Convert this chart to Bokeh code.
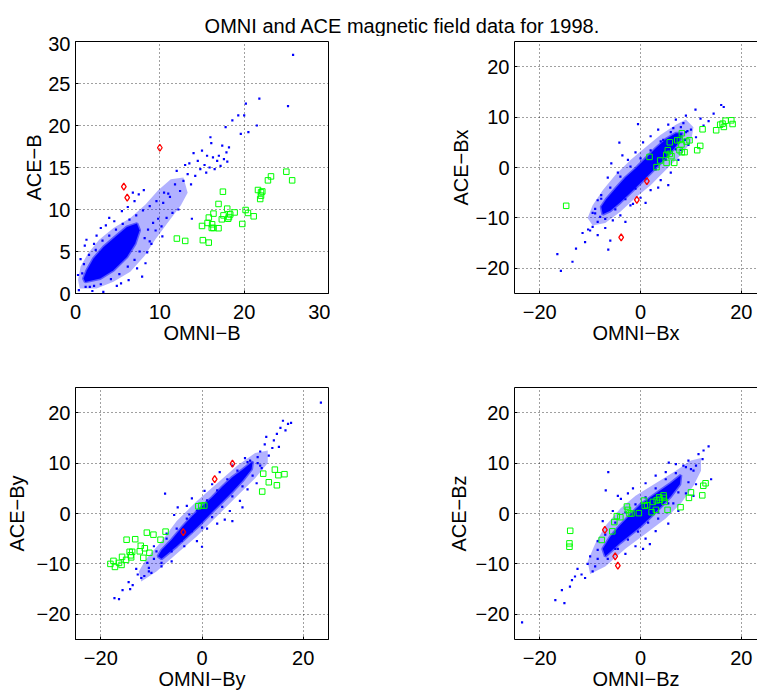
from bokeh.plotting import figure
from bokeh.layouts import column, row
from bokeh.models import FixedTicker, Range1d, LinearAxis
from bokeh.core.properties import value
from bokeh.embed import file_html
from bokeh.resources import INLINE

FONT = "Liberation Sans"
MINUS = "\u2212"
TITLE = "OMNI and ACE magnetic field data for 1998."

# ---------------- Panel 1 : B ----------------
b_core_x = [1.15, 2.93, 4.5, 6.1, 7.08, 7.6, 7.28, 6.1, 4.7, 3.33, 2.14, 1.35, 0.95]
b_core_y = [1.38, 1.78, 2.77, 4.35, 5.94, 7.53, 8.32, 7.93, 6.74, 5.55, 4.16, 2.77, 1.78]
b_halo_x = [0.5, 2.5, 4.5, 6.5, 8.2, 9.5, 11.0, 12.5, 13.3, 12.8, 11.3, 9.8, 8.3, 6.5, 4.5, 2.8, 1.5, 0.6, 0.3]
b_halo_y = [0.6, 0.6, 1.4, 2.6, 4.5, 6.5, 8.5, 10.5, 12.0, 13.8, 13.6, 12.3, 10.6, 9.0, 7.8, 6.4, 4.8, 3.2, 1.6]
b_dots_x = [10.5, 11.2, 11.8, 12.4, 12.0, 12.8, 13.3, 13.7, 13.5, 14.2, 14.5, 14.8, 15.0, 15.3, 15.6, 15.9,
            16.1, 16.3, 16.5, 16.8, 17.0, 17.2, 17.4, 17.6, 17.9, 18.0, 18.2, 16.0, 15.5, 14.0, 13.0, 18.6,
            19.3, 19.6, 20.2, 20.5, 21.5, 21.8, 20.0, 17.8, 25.2, 25.8,
            9.5, 10.2, 10.8, 11.5, 12.2, 9.0, 8.3, 7.9, 10.3, 13.8, 8.8, 9.8,
            0.6, 1.1, 2.2, 1.3, 3.0, 4.0, 5.5, 4.6, 6.2, 7.0, 8.1, 7.5, 6.8, 3.6, 2.5,
            0.4, 3.3, 2.0, 4.9, 6.3, 5.4, 7.3, 8.5, 0.3, 1.7,
            1.0, 1.6, 2.4, 3.2, 4.0, 4.8, 5.6, 6.4, 7.2, 8.0, 8.8, 9.6, 10.4, 11.0, 9.2, 8.6, 8.2,
            7.6, 7.0, 6.2, 5.2, 4.2, 3.0, 2.2, 1.2, 0.8]
b_dots_y = [12.0, 11.5, 13.0, 12.2, 14.6, 13.4, 14.2, 13.0, 15.5, 14.0, 15.8, 14.8, 17.0, 15.3, 16.4, 15.0,
            17.9, 16.2, 14.8, 15.8, 16.4, 15.2, 17.6, 16.0, 16.8, 15.7, 17.4, 18.6, 14.4, 16.7, 15.3, 20.6,
            21.2, 19.0, 22.6, 19.2, 20.0, 23.2, 21.2, 19.8, 22.3, 28.4,
            7.5, 8.0, 9.0, 9.6, 10.0, 5.9, 3.6, 2.0, 6.8, 8.9, 6.2, 8.9,
            4.1, 5.7, 5.9, 6.4, 7.8, 9.0, 9.8, 8.6, 10.3, 11.0, 12.3, 11.8, 12.0, 8.1, 6.9,
            0.4, 0.2, 0.3, 0.9, 1.6, 1.2, 3.0, 4.9, 2.2, 0.8,
            3.5, 4.6, 5.2, 6.3, 6.9, 7.6, 8.3, 8.8, 9.3, 9.9, 10.4, 11.0, 10.8, 11.9, 8.4, 7.6, 6.6,
            5.0, 4.0, 3.2, 2.3, 1.7, 1.1, 0.9, 0.8, 2.4]
b_green_x = [12.02, 13.01, 15.1, 15.8, 15.0, 15.66, 15.81, 16.2, 16.16, 16.36, 16.96, 16.36, 16.96, 17.48,
             17.35, 17.55, 17.99, 18.1, 18.2, 18.35, 18.87, 19.78, 20.17, 20.45, 21.13, 21.64, 22.0, 22.15,
             22.0, 21.9, 22.82, 23.18, 25.0, 25.69]
b_green_y = [6.54, 6.26, 6.35, 6.06, 8.04, 8.40, 9.04, 8.24, 7.8, 7.8, 7.77, 9.51, 10.66, 12.12,
             8.83, 9.3, 10.1, 8.9, 9.1, 9.41, 9.65, 8.28, 9.94, 9.59, 9.19, 12.32, 12.04, 12.15,
             11.65, 11.25, 13.47, 13.94, 14.5, 13.47]
b_red_x = [10.0, 5.73, 6.13]
b_red_y = [17.35, 12.72, 11.41]

# ---------------- Panel 2 : Bx ----------------
bx_core_x = [-7.5, -6, -4, -2, 0, 2, 4, 6, 7.8, 8.3, 7, 5, 3, 1, -1, -3, -5, -6.8, -7.8]
bx_core_y = [-9.3, -8.6, -6.9, -5.0, -3.1, -1.1, 0.9, 3.0, 5.2, 6.8, 6.8, 5.6, 3.8, 1.8, -0.2, -2.0, -4.2, -6.3, -7.8]
bx_halo_x = [-9.5, -7, -4, -1, 2, 5, 8, 10, 10.5, 9, 7, 4, 1, -2, -5, -7.5, -9.5, -10.5]
bx_halo_y = [-11.5, -11, -8.8, -6, -3.5, -0.5, 2.5, 5, 8, 9.5, 8.5, 6.5, 4, 1.5, -1.5, -4.5, -7.5, -10]
bx_dots_x = [-4.2, -0.5, 10.9, 16.0, 16.5, 14.5, 11.9, -16.5, -15.8, -13.5, -12.8, -11.0, -10.4, -6.4, -6.0,
             -9.0, -8.0, -8.5, -10.0, -9.5, -11.5, -7.0,
             -5.8, -3.6, -6.5, -7.8, -4.5, -2.5, -1.0, 0.5, 2.0, 3.5, 5.5, 7.0, 9.0, 8.5, 10.0, 9.5, 11.0,
             12.5, 13.5, 7.5, 6.0, 4.0, 2.0, 0.0, -2.0, -4.0, -5.5, -3.0, 1.0, 3.5, 5.5, 8.0, 9.0, -8.5,
             -9.5, -1.5, 6.5, 4.5,
             -8.5, -7.0, -5.0, -3.0, -1.0, 1.0, 3.0, 5.0, 7.0, 8.8, 9.3, 8.0, 6.0, 4.0, 2.0, 0.0, -2.0,
             -4.0, -6.0, -7.8, -9.0]
bx_dots_y = [4.95, 8.6, 11.5, 12.4, 12.0, 10.7, 9.7, -17.2, -20.5, -18.7, -16.1, -14.8, -12.3, -16.3, -14.5,
             -9.1, -9.8, -13.4, -12.5, -11.8, -13.0, -12.0,
             0.8, 2.4, -2.0, -5.5, -1.0, 1.5, 3.0, 5.0, 6.2, 7.5, 8.5, 9.5, 10.3, 8.8, 7.5, 4.5, 6.0,
             8.3, 9.2, 1.5, -1.0, -2.5, -4.5, -6.0, -7.5, -9.5, -10.5, -10.8, -7.0, -4.0, -3.5, 3.5, 7.0, -6.5,
             -9.0, -7.2, 7.8, 5.5,
             -10.8, -10.2, -8.3, -6.3, -4.2, -2.3, -0.4, 1.5, 3.6, 5.5, 7.2, 8.0, 7.0, 5.2, 3.4, 1.8, 0.2,
             -1.8, -4.0, -6.2, -8.2]
bx_green_x = [-14.75, 1.79, 3.17, 3.9, 5.16, 5.1, 5.41, 6.13, 5.8, 6.69, 5.8, 7.28, 7.8, 8.2, 8.12, 7.74,
              8.2, 8.73, 9.13, 9.72, 11.24, 11.84, 12.3, 15.0, 15.8, 16.27, 16.53, 16.87, 18.0, 18.26]
bx_green_y = [-7.6, 2.1, 0.07, 1.39, 0.92, 2.51, 3.43, 2.25, 2.7, 0.92, 5.0, 5.4, 5.46, 6.8, 4.57, 3.43,
              3.04, 3.04, 5.15, 5.4, 3.43, 4.29, 7.58, 7.39, 8.5, 8.7, 8.05, 9.29, 9.36, 8.63]
bx_red_x = [1.25, -0.73, -3.84]
bx_red_y = [-2.71, -6.41, -13.87]

# ---------------- Panel 3 : By ----------------
by_core_x = [-8, -5, -2, 0, 2, 4, 6, 8, 9.8, 10, 8, 6, 4, 2, 0, -2, -4, -6, -8, -8.7]
by_core_y = [-9.0, -6.5, -3.7, -1.8, 0.3, 2.3, 4.3, 6.5, 8.8, 10.3, 8.7, 7.2, 5.3, 3.2, 1.4, -0.6, -2.8, -5.2, -7.3, -8.5]
by_halo_x = [-12, -9, -5, -1, 3, 7, 10.5, 13, 13, 10.5, 7, 3, -1, -5, -8, -11, -12.5]
by_halo_y = [-13.5, -11.5, -8, -4.5, -0.5, 3.5, 7, 10, 12.5, 12, 9.5, 6, 2.5, -1.5, -5.5, -9, -11.5]
by_dots_x = [-7.3, 12.4, 16.0, 14.8, 13.9, 12.7, 17.0, 17.6, 15.5, 14.2, 13.2, 11.5, 11.0, 15.2, 16.5, 23.5,
             -15.7, -17.3, -16.4, -13.7, -12.7, -11.4, -14.5, -13.0, -10.5, -10.0, -9.5, -12.0, -14.2,
             -3.0, -5.5, -4.8, -2.0, 0.5, 2.0, 3.5, 6.0, 8.5, 9.5, -1.0, 1.0, 3.0, 5.5, 7.5, 9.0, 10.8, 8.0,
             4.5, -6.0, -8.0, -3.5, -7.0, -9.5, 0.0, 6.0, -2.5, 11.8,
             -10.5, -8.0, -6.0, -4.0, -2.0, 0.0, 2.0, 4.0, 6.0, 8.0, 10.0, 11.5, 11.0, 9.0, 7.0, 5.0, 3.0,
             1.0, -1.0, -3.0, -5.0, -7.0, -9.0, -10.8]
by_dots_y = [3.95, 13.7, 18.4, 15.8, 13.0, 15.2, 17.8, 18.0, 17.0, 14.5, 11.5, 12.3, 10.0, 13.2, 16.5, 22.0,
             -15.2, -16.8, -17.0, -14.2, -12.1, -12.4, -13.6, -11.0, -10.8, -11.8, -9.0, -12.8, -15.0,
             1.5, -0.3, 1.2, 3.0, 4.5, 5.8, 8.2, 9.5, 11.0, 10.5, -5.5, -3.0, -2.0, 0.5, 2.5, 4.8, 6.0, 1.2,
             -1.2, -9.5, -10.5, -6.5, -4.0, -6.5, -6.6, -1.5, -0.2, 9.0,
             -11.5, -9.8, -7.5, -5.4, -3.5, -2.8, -0.7, 1.3, 3.4, 5.4, 7.5, 9.5, 11.2, 10.2, 8.5, 6.8, 4.6,
             2.6, 0.6, -1.0, -3.0, -5.0, -7.5, -9.8]
by_green_x = [-18.1, -17.5, -17.2, -16.4, -15.9, -15.8, -15.0, -14.9, -14.3, -13.8, -14.1, -14.0, -13.2,
              -12.1, -12.3, -11.6, -11.3, -10.4, -10.9, -9.6, -8.2, -7.2, -0.73, -0.13, 0.46, 11.9, 12.1,
              13.2, 14.4, 14.8, 15.1, 16.3]
by_green_y = [-10.0, -9.4, -10.6, -9.8, -10.2, -8.6, -9.2, -5.2, -7.6, -7.6, -8.3, -8.7, -5.1,
              -6.4, -7.5, -8.8, -6.9, -7.8, -3.8, -4.2, -5.2, -3.6, 1.44, 1.58, 1.58, 4.35, 7.9,
              6.2, 8.7, 5.6, 7.6, 7.8]
by_red_x = [6.02, 2.51, -3.7]
by_red_y = [9.88, 6.84, -3.7]

# ---------------- Panel 4 : Bz ----------------
bz_core_x = [-7, -4, -2, 0, 2, 4, 6, 7.8, 8, 6, 4, 2, 0, -2, -4, -6, -7.5]
bz_core_y = [-8.5, -5.8, -4.2, -2.6, -0.7, 1.3, 3.4, 5.8, 7.6, 6.0, 4.6, 3.2, 1.8, -0.2, -2.3, -4.6, -7.0]
bz_halo_x = [-10, -7, -3, 1, 5, 8, 10.5, 12, 12, 10, 7, 3, -1, -4, -7, -9, -10.5]
bz_halo_y = [-12, -10.5, -7, -4, -1, 2, 5.5, 8.5, 11, 10.5, 8.5, 6, 3.5, 1, -2.5, -6, -9.5]
bz_dots_x = [-6.4, -6.9, -3.9, 5.6, 14.0, 1.85, -23.5, -15.1, -16.9, -15.6, -13.6, -11.7, -12.5, -14.0, -10.5,
             -11.0, -9.5, -8.5, -10.0, -13.0, 9.5, 11.5, 12.5, 13.5, 11.0, 10.0, 12.3, 8.5, -1.5, 1.0, 3.0,
             5.0, 7.0, 9.0, 10.5, 11.0, 7.5, 5.5, 3.0, 1.0, -1.0, -3.0, -5.0, -4.5, -2.5, -5.5, -7.5, -8.5,
             0.5, 3.5, 6.5, -2.0,
             -9.0, -6.5, -4.5, -2.5, -0.5, 1.5, 3.5, 5.5, 7.5, 9.5, 10.5, 9.0, 7.0, 5.0, 3.0, 1.0, -1.0,
             -3.0, -5.0, -7.0, -8.5]
bz_dots_y = [8.2, 4.6, 2.9, 10.1, 6.8, -6.07, -21.6, -17.8, -17.2, -15.2, -13.2, -12.1, -11.0, -14.5, -10.0,
             -12.8, -11.5, -9.0, -8.5, -12.5, 10.5, 11.8, 12.5, 13.3, 9.5, 8.8, 10.8, 9.5, 5.0, 6.0, 7.5,
             8.2, 9.8, 4.0, 3.5, 5.8, 0.5, -2.0, -3.5, -5.0, -6.5, -8.0, -7.0, 3.5, 4.0, 0.5, -1.5, -5.5,
             -7.0, -1.0, 2.0, -3.5,
             -10.5, -9.0, -7.0, -5.2, -3.6, -1.8, 0.2, 2.0, 4.2, 6.2, 8.5, 9.2, 8.0, 6.8, 5.0, 3.2, 1.8,
             0.2, -1.8, -4.2, -7.2]
bz_green_x = [-13.95, -14.1, -14.1, -7.7, -5.6, -5.2, -4.7, -4.0, -2.7, -2.5, -2.2, -1.8, -0.33, 0.7, 0.84,
              1.3, 2.2, 2.45, 3.05, 3.2, 3.7, 3.85, 4.57, 4.77, 4.63, 5.36, 7.94, 9.6, 10.0, 12.25, 12.45, 12.9]
bz_green_y = [-3.43, -5.93, -6.6, -5.25, -3.54, -1.7, -0.53, -0.73, 1.38, 0.72, 0.0, 0.0, 0.07, 2.57, 1.52,
              1.65, 0.26, 2.3, 0.72, 2.6, 3.2, 2.74, 3.6, 2.3, 3.1, 0.72, 1.25, 3.1, 4.2, 3.6, 5.5, 6.0]
bz_red_x = [-7.08, -5.03, -4.5]
bz_red_y = [-3.24, -8.5, -10.35]

ticks_b = [0, 10, 20, 30]
ticks_b_y = [0, 5, 10, 15, 20, 25, 30]
ticks_c = [-20, 0, 20]
ticks_c_y = [-20, -10, 0, 10, 20]


def lab(v):
    return (MINUS + str(-v)) if v < 0 else str(v)


def panel(width, height, bl, br, bt, bb, xr, yr, xt, yt, xlab, ylab, cut_right, ystand,
          core, halo, dots, green, red):
    p = figure(width=width, height=height, min_border_left=bl, min_border_right=br,
               min_border_top=bt, min_border_bottom=bb,
               x_range=Range1d(*xr), y_range=Range1d(*yr),
               toolbar_location=None, output_backend="svg")
    p.background_fill_color = "white"
    p.border_fill_color = None
    xa = p.below[0]
    ya = p.left[0]
    for ax, ticks, label in ((xa, xt, xlab), (ya, yt, ylab)):
        ax.ticker = FixedTicker(ticks=ticks)
        ax.major_label_overrides = {t: lab(t) for t in ticks}
        ax.axis_label = label
        ax.axis_label_text_font = FONT
        ax.axis_label_text_font_size = "20px"
        ax.axis_label_text_font_style = "normal"
        ax.axis_label_text_color = "black"
        ax.major_label_text_font = FONT
        ax.major_label_text_font_size = "20px"
        ax.major_label_text_color = "black"
        ax.axis_line_color = "black"
        ax.major_tick_in = 3
        ax.major_tick_out = 0
        ax.major_tick_line_color = "black"
        ax.minor_tick_line_color = None
    xa.major_label_standoff = 11
    xa.axis_label_standoff = 0
    ya.major_label_standoff = 5
    ya.axis_label_standoff = ystand
    for g in (p.xgrid[0], p.ygrid[0]):
        g.grid_line_color = "black"
        g.grid_line_alpha = 0.75
        g.grid_line_dash = "1 3"
        g.grid_line_width = 1
    p.xgrid[0].ticker = FixedTicker(ticks=xt)
    p.ygrid[0].ticker = FixedTicker(ticks=yt)
    if cut_right:
        p.outline_line_color = None
        top = LinearAxis(ticker=FixedTicker(ticks=[]), major_tick_in=0, major_tick_out=0,
                         minor_tick_in=0, minor_tick_out=0, axis_line_color="black",
                         major_label_text_font_size="1px")
        p.add_layout(top, "above")
    else:
        p.outline_line_color = "black"
        p.outline_line_alpha = 1

    p.patch(halo[0], halo[1], fill_color="#0000ff", fill_alpha=0.3, line_color=None)
    p.patch(core[0], core[1], fill_color="#0000ff", fill_alpha=1.0, line_color="#0000ff",
            line_alpha=0.5, line_width=3)
    p.scatter(dots[0], dots[1], marker="square", size=2.2, fill_color="#0000ff",
              line_color=None)
    p.scatter(green[0], green[1], marker="square", size=5.5, fill_color=None,
              line_color="#00ff00", line_width=1)
    p.scatter(red[0], red[1], marker="diamond", size=7, fill_color=None,
              line_color="#ff0000", line_width=1.3)
    return p


W_L, W_R = 330, 427
TOP_H = 36
p1 = panel(W_L, 337, 75, 2, 5, 80, (0, 30), (0, 30), ticks_b, ticks_b_y,
           "OMNI" + MINUS + "B", "ACE" + MINUS + "B", False, 0,
           (b_core_x, b_core_y), (b_halo_x, b_halo_y), (b_dots_x, b_dots_y),
           (b_green_x, b_green_y), (b_red_x, b_red_y))
p2 = panel(W_R, 337, 184, 0, 5, 80, (-25, 23.2), (-25, 25), ticks_c, ticks_c_y,
           "OMNI" + MINUS + "Bx", "ACE" + MINUS + "Bx", True, 1,
           (bx_core_x, bx_core_y), (bx_halo_x, bx_halo_y), (bx_dots_x, bx_dots_y),
           (bx_green_x, bx_green_y), (bx_red_x, bx_red_y))
p3 = panel(W_L, 321, 75, 2, 14, 55, (-25, 25), (-25, 25), ticks_c, ticks_c_y,
           "OMNI" + MINUS + "By", "ACE" + MINUS + "By", False, 6,
           (by_core_x, by_core_y), (by_halo_x, by_halo_y), (by_dots_x, by_dots_y),
           (by_green_x, by_green_y), (by_red_x, by_red_y))
p4 = panel(W_R, 321, 184, 0, 14, 55, (-25, 23.2), (-25, 25), ticks_c, ticks_c_y,
           "OMNI" + MINUS + "Bz", "ACE" + MINUS + "Bz", True, 3,
           (bz_core_x, bz_core_y), (bz_halo_x, bz_halo_y), (bz_dots_x, bz_dots_y),
           (bz_green_x, bz_green_y), (bz_red_x, bz_red_y))

tfig = figure(width=W_L + W_R, height=TOP_H, toolbar_location=None, output_backend="svg",
              min_border=0, x_range=Range1d(0, W_L + W_R), y_range=Range1d(0, TOP_H),
              x_axis_location=None, y_axis_location=None)
tfig.grid.visible = False
tfig.outline_line_color = None
tfig.text(x=[402], y=[11], text=[TITLE], text_font=value(FONT), text_font_size="20px",
          text_align="center", text_baseline="alphabetic", text_color="black")

layout = column(tfig, row(p1, p2), row(p3, p4))
open("out.html", "w").write(file_html(layout, INLINE))
